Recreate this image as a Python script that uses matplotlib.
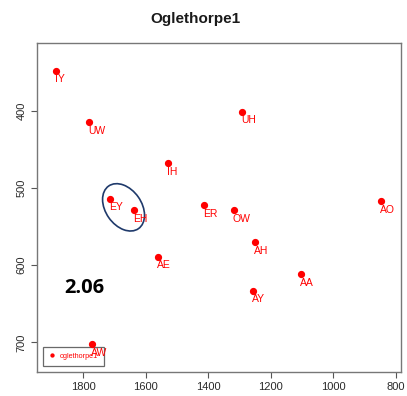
import matplotlib
matplotlib.use("Agg")
import matplotlib.pyplot as plt
from matplotlib.patches import Ellipse
from matplotlib.transforms import ScaledTranslation

plt.rcParams['font.family'] = ['Liberation Sans', 'DejaVu Sans']

vowels = ["IY", "UW", "UH", "IH", "EY", "EH", "ER", "OW", "AO", "AH", "AE", "AA", "AY", "AW"]
f2 = [1888, 1782, 1291, 1529, 1714, 1638, 1413, 1319, 848, 1251, 1561, 1103, 1258, 1773]
f1 = [348, 415, 401, 468, 514, 529, 522, 529, 517, 570, 589, 612, 633, 702]
series_name = "oglethorpe1"
title = "Oglethorpe1"
score = "2.06"
x_ticks = [1800, 1600, 1400, 1200, 1000, 800]
y_ticks = [400, 500, 600, 700]
ellipse_center = (1671, 525)

red = "#ff0000"
fig = plt.figure(figsize=(4.07, 3.96), dpi=100)
ax = fig.add_axes([0.0902, 0.0614, 0.8951, 0.8300])

ax.plot(f2, f1, 'o', color=red, markersize=4.2, label=series_name, linestyle='none', zorder=4)
for v, x, y in zip(vowels, f2, f1):
    ax.annotate(v, (x, y), xytext=(-0.6, -2.6), textcoords='offset points',
                ha='left', va='top', color=red, fontsize=7.5, zorder=6)

ax.set_xlim(1948.6, 784)
ax.set_ylim(738, 312)
ax.set_xticks(x_ticks)
ax.set_yticks(y_ticks)
ax.set_yticklabels([str(t) for t in y_ticks], rotation=90, va='center')
ax.tick_params(axis='both', direction='out', length=4.5, width=0.8, color='#555555',
               labelsize=8, labelcolor='#2a2a2a', pad=3)
for s in ax.spines.values():
    s.set_color('#777777')
    s.set_linewidth(1.0)

# ellipse drawn in inches around a data-space centre
tr = fig.dpi_scale_trans + ScaledTranslation(ellipse_center[0], ellipse_center[1], ax.transData)
ax.add_patch(Ellipse((0, 0), 0.52, 0.36, angle=-55, transform=tr, fill=False,
                     edgecolor='#1f3a6b', linewidth=1.2))

ax.text(1795, 630, score, fontsize=14.5, fontweight='bold', ha='center', va='center',
        family=['Open Sans', 'DejaVu Sans'], color='black')

fig.text(195 / 407, 1 - 19 / 396, title, ha='center', va='center', fontsize=11,
         fontweight='bold', color='#1a1a1a')

leg = ax.legend(loc='lower left', bbox_to_anchor=(0.016, 0.018), fontsize=5.2,
                markerscale=0.5, handlelength=1.0, handletextpad=0.6, borderpad=0.8,
                frameon=True, fancybox=False, borderaxespad=0)
leg.set_zorder(3)
leg.get_frame().set_edgecolor('#444444')
leg.get_frame().set_linewidth(0.9)
for t in leg.get_texts():
    t.set_color(red)

fig.savefig("out.png", dpi=100)
